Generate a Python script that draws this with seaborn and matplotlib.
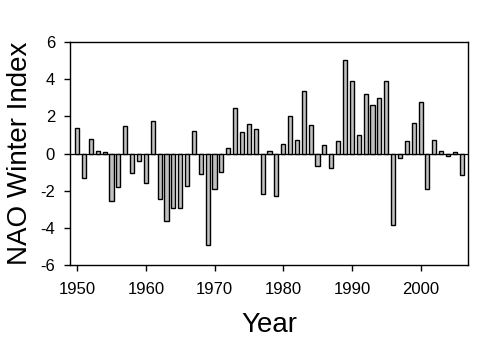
import matplotlib
matplotlib.use("Agg")
import matplotlib.pyplot as plt
import seaborn as sns
import pandas as pd

# Winter NAO index by year
years = list(range(1950, 2007))
nao_index = [
    1.40, -1.29, 0.81, 0.16, 0.11, -2.53, -1.78, 1.51, -1.02, -0.38,
    -1.56, 1.78, -2.42, -3.61, -2.91, -2.91, -1.72, 1.24, -1.08, -4.90,
    -1.89, -0.97, 0.32, 2.48, 1.18, 1.62, 1.35, -2.15, 0.16, -2.26,
    0.54, 2.05, 0.75, 3.39, 1.56, -0.65, 0.48, -0.75, 0.70, 5.06,
    3.93, 1.02, 3.23, 2.64, 3.02, 3.93, -3.82, -0.22, 0.70, 1.67,
    2.80, -1.90, 0.75, 0.16, -0.13, 0.11, -1.15,
]
x_ticks = [1950, 1960, 1970, 1980, 1990, 2000]
y_ticks = [-6, -4, -2, 0, 2, 4, 6]

df = pd.DataFrame({"Year": years, "NAO": nao_index})

sns.set_theme(style="white")
plt.rcParams["font.family"] = ["Liberation Sans", "DejaVu Sans"]

fig = plt.figure(figsize=(4.90, 3.38), dpi=100)
ax = fig.add_axes([0.1435, 0.216, 0.8115, 0.659])

sns.barplot(data=df, x="Year", y="NAO", native_scale=True, width=0.6,
            color="#c0c0c0", saturation=1, edgecolor="black", linewidth=1.0,
            ax=ax)

ax.axhline(0, color="black", linewidth=0.9, zorder=0.5)
ax.set_xlim(1949.0, 2006.9)
ax.set_ylim(-6, 6)
ax.set_xticks(x_ticks)
ax.set_yticks(y_ticks)
ax.set_xticklabels([str(t) for t in x_ticks])
ax.set_yticklabels([str(t) for t in y_ticks])

for s in ax.spines.values():
    s.set_color("black")
    s.set_linewidth(1.0)

ax.tick_params(axis="both", which="major", direction="out", length=4,
               width=1.0, color="black", labelsize=12, labelcolor="black",
               left=True, bottom=True, top=False, right=False)
ax.tick_params(axis="y", pad=7)
ax.tick_params(axis="x", pad=8)

ax.set_xlabel("Year", fontsize=20, color="black", labelpad=11)
ax.set_ylabel("NAO Winter Index", fontsize=20, color="black", labelpad=5)

fig.savefig("out.png", dpi=100)
